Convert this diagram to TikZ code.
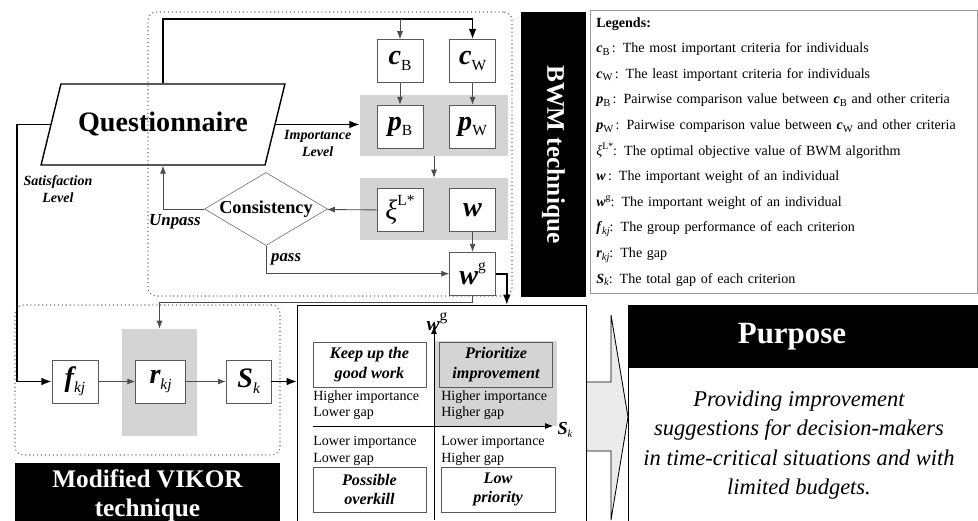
\documentclass[tikz,border=0pt]{standalone}
\usepackage{fontspec}
\setmainfont{Liberation Serif}
\usepackage{tikz}
\usetikzlibrary{arrows.meta,positioning,shapes.geometric}

\newcommand{\bsub}[1]{\raisebox{-0.45ex}{\fontsize{11}{11}\selectfont\upshape\mdseries #1}}
\newcommand{\bsup}[1]{\raisebox{1.1ex}{\fontsize{11}{11}\selectfont\upshape\mdseries #1}}
\newcommand{\lsub}[1]{\raisebox{-0.4ex}{\fontsize{7.5}{7.5}\selectfont\upshape\mdseries #1}}
\newcommand{\lsup}[1]{\raisebox{0.9ex}{\fontsize{7}{7}\selectfont\upshape\mdseries #1}}
\newcommand{\lsym}[1]{\textbf{\textit{#1}}}

\begin{document}
\begin{tikzpicture}[
  x=0.25mm, y=-0.25mm,
  node distance=5.5mm and 6.5mm,
  zone/.style={draw=black!55, dotted, thick, rounded corners=6pt},
  shade/.style={fill=black!17, draw=none},
  vbox/.style={draw=black!65, fill=white, minimum width=11.5mm, minimum height=10.75mm, inner sep=0pt, font=\fontsize{20}{22}\selectfont\bfseries\itshape},
  blk/.style={fill=black, text=white, font=\fontsize{18}{21}\selectfont\bfseries, align=center},
  lbl/.style={text=black, font=\fontsize{10}{12}\selectfont\bfseries\itshape, align=center},
  quadbox/.style={draw=black!65, minimum width=28.25mm, minimum height=11.25mm, inner sep=0pt, align=center, font=\fontsize{11.5}{14}\selectfont\bfseries\itshape},
  quadtxt/.style={anchor=north west, inner sep=0pt, align=left, font=\fontsize{10}{12}\selectfont},
  arr/.style={-{Latex[length=2mm]}, black!70, semithick},
  thickarr/.style={-{Latex[length=2.6mm]}, line width=1.2pt}
]
  \useasboundingbox (0,0) rectangle (978,521);

  % dotted zones and shaded groups
  \node[zone, minimum width=91mm, minimum height=71mm] (bwmzone) at (330,154) {};
  \node[zone, minimum width=66.25mm, minimum height=37.5mm] (vikzone) at (147.5,380) {};
  \node[shade, minimum width=37mm, minimum height=15.25mm] (gp) at (434,125.5) {};
  \node[shade, minimum width=37mm, minimum height=15.5mm] (gx) at (434,209) {};
  \node[shade, minimum width=18.75mm, minimum height=26.75mm] (grk) at (159.5,382.5) {};

  % BWM part
  \node[trapezium, trapezium left angle=63.7, trapezium right angle=116.3, trapezium stretches=true, draw, line width=1pt, inner xsep=0pt, minimum width=61mm, minimum height=20.25mm, font=\fontsize{20}{24}\selectfont\bfseries] (qn) at (163,124.5) {Questionnaire};
  \node[vbox] (cB) at (400,61) {c\bsub{B}};
  \node[vbox, right=of cB] (cW) {c\bsub{W}};
  \node[vbox, below=of cB] (pB) {p\bsub{B}};
  \node[vbox, below=of cW] (pW) {p\bsub{W}};
  \node[vbox, below=10mm of pB] (xi) {\mdseries ξ\bsup{L*}};
  \node[vbox, below=10mm of pW] (w) {w};
  \node[vbox, below=5mm of w] (wg) {w\bsup{g}};
  \node[diamond, draw=black!60, aspect=1.7, inner sep=0pt, minimum width=30.75mm, minimum height=18.25mm, font=\fontsize{13}{14}\selectfont\bfseries] (cons) at (266,209) {Consistency};
  \node[blk, rotate=-90, minimum width=71.25mm, minimum height=16.25mm] (bwm) at (553.5,154.5) {BWM technique};

  % legend
  \node[draw=black!40, anchor=north west, minimum height=70.75mm, text width=93.75mm, inner xsep=1.5mm, inner ysep=0pt, align=left, font=\fontsize{10}{18.2}\selectfont] (leg) at (590,10) {\textbf{Legends:}\\
    \lsym{c}\lsub{B}\,: The most important criteria for individuals\\
    \lsym{c}\lsub{W}\,: The least important criteria for individuals\\
    \lsym{p}\lsub{B}\,: Pairwise comparison value between \lsym{c}\lsub{B} and other criteria\\
    \lsym{p}\lsub{W}\,: Pairwise comparison value between \lsym{c}\lsub{W} and other criteria\\
    \textit{ξ}\lsup{L*}: The optimal objective value of BWM algorithm\\
    \lsym{w}\,: The important weight of an individual\\
    \lsym{w}\lsup{g}: The important weight of an individual\\
    \lsym{f}\lsub{\itshape kj}: The group performance of each criterion\\
    \lsym{r}\lsub{\itshape kj}: The gap\\
    \lsym{S}\lsub{\itshape k}: The total gap of each criterion};

  % VIKOR part
  \node[vbox] (fkj) at (75,381.5) {f\bsub{\itshape kj}};
  \node[vbox, minimum width=12.5mm, right=9.25mm of fkj] (rkj) {r\bsub{\itshape kj}};
  \node[vbox, minimum width=11.25mm, right=10mm of rkj] (Sk) {S\bsub{\itshape k}};
  \node[blk, minimum width=66.25mm, minimum height=16.5mm] (vik) at (147.5,496) {Modified VIKOR\\technique};
  \node[lbl] (satlbl) at (58,189) {Satisfaction\\Level};

  % importance-performance quadrants
  \node[draw, line width=1pt, anchor=north west, minimum width=72.25mm, minimum height=57.5mm] (quad) at (297,305) {};
  \node[shade, anchor=north west, minimum width=30.75mm, minimum height=21.25mm] (hot) at (434,341) {};
  \coordinate (vlo) at (434,520);
  \coordinate (vhi) at (434,326);
  \coordinate (hlo) at (313,426);
  \coordinate (hhi) at (553,426);
  \draw[-{Latex[length=2mm]}, semithick] (vlo) -- (vhi);
  \draw[-{Latex[length=2mm]}, semithick] (hlo) -- (hhi);
  \node[font=\fontsize{14}{14}\selectfont\bfseries\itshape] (wgax) at (437,322) {w\bsup{g}};
  \node[font=\fontsize{13}{13}\selectfont\bfseries\itshape] (skax) at (565,430) {S\lsub{\itshape k}};
  \node[quadbox, fill=white] (keep) at (369.5,364.5) {Keep up the\\good work};
  \node[quadbox] (prior) at (496,364.5) {Prioritize\\improvement};
  \node[quadbox, fill=white] (overkill) at (369.5,489.5) {Possible\\overkill};
  \node[quadbox, minimum width=28.5mm] (lowpri) at (498,489.5) {Low\\priority};
  \node[quadtxt] (hl) at (313,390) {Higher importance\\Lower gap};
  \node[quadtxt] (hh) at (441,390) {Higher importance\\Higher gap};
  \node[quadtxt] (ll) at (313,436) {Lower importance\\Lower gap};
  \node[quadtxt] (lh) at (441,436) {Lower importance\\Higher gap};

  % block arrow and purpose
  \draw[fill=black!8, semithick] (587,382) -- (611,382) -- (611,315) -- (628,417) -- (611,520) -- (611,451) -- (587,451);
  \node[draw, line width=0.8pt, anchor=north west, minimum width=90.5mm, minimum height=58.75mm] (pbody) at (628,305) {};
  \node[fill=black, anchor=north west, minimum width=90.5mm, minimum height=15.75mm] (phead) at (628,305) {};
  \node[text=white, font=\fontsize{22}{24}\selectfont\bfseries] (ptitle) at (792,336.5) {Purpose};
  \node[font=\fontsize{16}{21}\selectfont\itshape, align=center] (ptext) at (799,445) {Providing improvement\\suggestions for decision-makers\\in time-critical situations and with\\limited budgets.};

  % connectors
  \draw[thickarr] (qn.north) -- ++(0,-64) coordinate (tl) -| (cW.north);
  \draw[arr] (tl -| cB.north) -- (cB.north);
  \draw[arr] (cB) -- (pB);
  \draw[arr] (cW) -- (pW);
  \draw[thickarr] (qn.east) -- node[lbl, below, pos=0.5] (implbl) {Importance\\Level} (qn.east -| gp.west);
  \draw[arr] (gp.south) -- (gx.north);
  \draw[arr] (xi) -- (cons);
  \draw[arr] (cons.west) -| node[lbl, font=\fontsize{12}{14}\selectfont\bfseries\itshape, pos=0.5, below, xshift=3mm] (unlbl) {Unpass} (qn.south);
  \draw[arr] (w) -- (wg);
  \draw[arr] (cons.south) |- node[lbl, font=\fontsize{12}{14}\selectfont\bfseries\itshape, pos=0.25, right] (passlbl) {pass} (wg.west);
  \draw[thickarr] (wg.east) -- ++(11,0) coordinate (wgr) -- (wgr |- quad.north);
  \draw[arr] (wg.south) -- ++(0,7) -| (grk.north);
  \draw[thickarr] (qn.west) -- ++(-33,0) |- (fkj.west);
  \draw[arr] (fkj) -- (rkj);
  \draw[arr] (rkj) -- (Sk);
  \draw[thickarr] (Sk.east) -- (Sk.east -| quad.west);
\end{tikzpicture}
\end{document}
